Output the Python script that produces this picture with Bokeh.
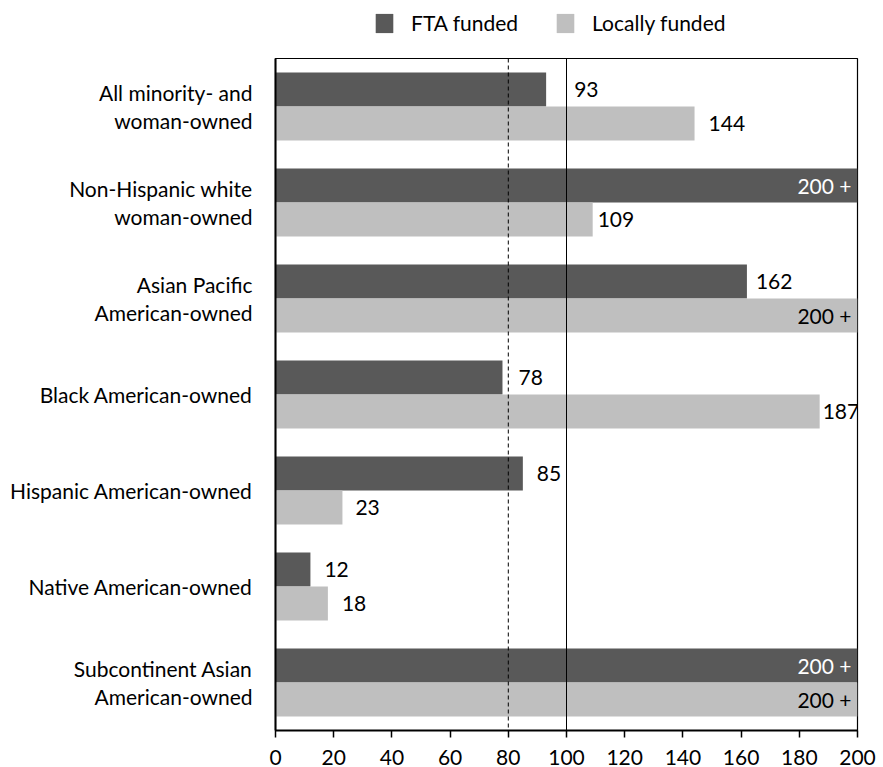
from bokeh.plotting import figure
from bokeh.layouts import column
from bokeh.models import (ColumnDataSource, Range1d, FixedTicker, Span,
                          Legend, LegendItem)
from bokeh.core.properties import value
from bokeh.embed import file_html
from bokeh.resources import INLINE

# Disparity ratios by business ownership group
categories = [
    "All minority- and\nwoman-owned",
    "Non-Hispanic white\nwoman-owned",
    "Asian Pacific\nAmerican-owned",
    "Black American-owned",
    "Hispanic American-owned",
    "Native American-owned",
    "Subcontinent Asian\nAmerican-owned",
]
series_names = ["FTA funded", "Locally funded"]
fta_funded = [93, 200, 162, 78, 85, 12, 200]
locally_funded = [144, 109, 200, 187, 23, 18, 200]
x_ticks = [0, 20, 40, 60, 80, 100, 120, 140, 160, 180, 200]
x_max = 200

# gap (px) between a bar end and its value label
fta_gap = [28, 14, 9, 16, 14, 14, 14]
local_gap = [14, 5, 14, 3, 13, 14, 14]

FONT = "Lato"
FS = "21px"
DARK = "#595959"
LIGHT = "#BFBFBF"
BAR_H = 0.355
W = 883
LEG_H = 57

# ---- legend strip (frame is aligned with the chart frame below) -----------
lg = figure(width=W, height=LEG_H, output_backend="svg", toolbar_location=None,
            x_range=Range1d(0, 1), y_range=Range1d(0, 1),
            min_border=0, outline_line_color=None)
lg.axis.visible = False
lg.grid.visible = False
# swatch renderers kept outside the visible range
swatch = ColumnDataSource(dict(y=[-10], r=[0.5]))
lr1 = lg.hbar(y="y", right="r", height=1, source=swatch,
              fill_color=DARK, line_color=None)
lr2 = lg.hbar(y="y", right="r", height=1, source=swatch,
              fill_color=LIGHT, line_color=None)
lg.add_layout(Legend(items=[LegendItem(label=series_names[0], renderers=[lr1]),
                            LegendItem(label=series_names[1], renderers=[lr2])],
                     orientation="horizontal", location=(98, 22),
                     glyph_width=22, glyph_height=24, label_standoff=16,
                     spacing=36, padding=0, margin=0,
                     label_text_font=FONT, label_text_font_size=FS,
                     label_text_color="black", border_line_color=None,
                     background_fill_alpha=0))

# ---- main bar chart -------------------------------------------------------
p = figure(width=W, height=767 - LEG_H, output_backend="svg",
           toolbar_location=None,
           x_range=Range1d(0, x_max), y_range=Range1d(6.5, -0.5),
           min_border_left=275, min_border_right=26,
           min_border_top=1, min_border_bottom=37)
p.outline_line_color = "black"
p.outline_line_width = 1.2
p.grid.visible = False

idx = list(range(len(categories)))


def series_source(vals, gaps, shift, inside_color):
    lab, lx, off, align, col = [], [], [], [], []
    for v, g in zip(vals, gaps):
        if v >= x_max:
            lab.append(f"{x_max} +")
            lx.append(x_max)
            off.append(-6)
            align.append("right")
            col.append(inside_color)
        else:
            lab.append(str(v))
            lx.append(v)
            off.append(g)
            align.append("left")
            col.append("black")
    return ColumnDataSource(dict(
        y=[i + shift for i in idx], v=[min(v, x_max) for v in vals],
        lab=lab, lx=lx, off=off, align=align, col=col))


src_fta = series_source(fta_funded, fta_gap, -BAR_H / 2, "white")
src_loc = series_source(locally_funded, local_gap, BAR_H / 2, "black")

p.hbar(y="y", left=0, right="v", height=BAR_H, source=src_fta,
       fill_color=DARK, line_color=None)
p.hbar(y="y", left=0, right="v", height=BAR_H, source=src_loc,
       fill_color=LIGHT, line_color=None)

# reference lines at 80 and 100
p.add_layout(Span(location=80, dimension="height", line_color="black",
                  line_width=1, line_dash="4 3"))
p.add_layout(Span(location=100, dimension="height", line_color="black",
                  line_width=1))

for src in (src_fta, src_loc):
    p.text(x="lx", y="y", text="lab", x_offset="off", text_align="align",
           text_baseline="middle", text_color="col",
           text_font=value(FONT), text_font_size=FS, source=src)

xa = p.xaxis[0]
xa.ticker = FixedTicker(ticks=x_ticks)
xa.axis_line_color = "black"
xa.axis_line_width = 2
xa.major_tick_line_color = "black"
xa.major_tick_line_width = 1.5
xa.major_tick_out = 7
xa.major_tick_in = 0
xa.minor_tick_line_color = None
xa.major_label_standoff = 12
xa.major_label_text_font = FONT
xa.major_label_text_font_size = FS
xa.major_label_text_color = "black"

ya = p.yaxis[0]
ya.ticker = FixedTicker(ticks=idx)
ya.major_label_overrides = {i: c for i, c in zip(idx, categories)}
ya.axis_line_color = "black"
ya.axis_line_width = 2
ya.major_tick_line_color = None
ya.minor_tick_line_color = None
ya.major_tick_out = 0
ya.major_tick_in = 0
ya.major_label_standoff = 23
ya.major_label_text_font = FONT
ya.major_label_text_font_size = FS
ya.major_label_text_color = "black"
ya.major_label_text_line_height = 1.1

layout = column(lg, p, spacing=0)
open("out.html", "w").write(file_html(layout, INLINE))
